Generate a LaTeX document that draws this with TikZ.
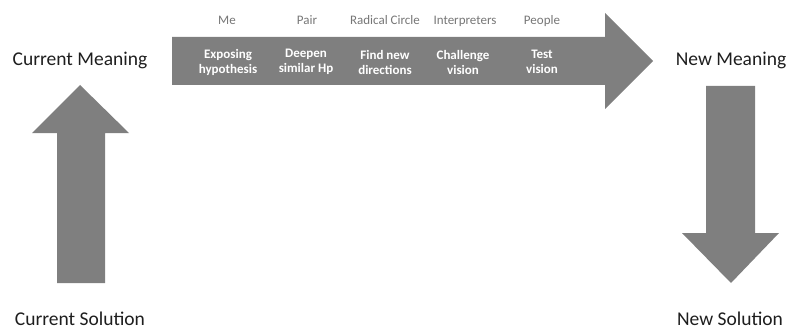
\documentclass[tikz,border=0pt]{standalone}
\usepackage{fontspec}
\setmainfont{Carlito}
\definecolor{gris}{RGB}{127,127,127}
\definecolor{grisclair}{RGB}{118,118,118}
\definecolor{encre}{RGB}{30,30,30}
\begin{document}
\begin{tikzpicture}[x=1pt, y=-1pt,
    fleche/.style={fill=gris},
    acteur/.style={text=grisclair, anchor=base, inner sep=0pt, font=\fontsize{13}{15}\selectfont},
    action/.style={text=white, align=center, inner sep=0pt, font=\fontsize{13}{15}\selectfont\bfseries},
    etat/.style={text=encre, anchor=base, inner sep=0pt, font=\fontsize{19.5}{23}\selectfont}]
    \useasboundingbox (0,0) rectangle (788,329);
    % fleche horizontale
    \fill[fleche] (172,37) -- (605,37) -- (605,13) -- (653,61)
        -- (605,109) -- (605,85) -- (172,85) -- cycle;
    % fleche montante
    \fill[fleche] (57,283) -- (57,133) -- (32,133) -- (80,85)
        -- (129,133) -- (105,133) -- (105,283) -- cycle;
    % fleche descendante
    \fill[fleche] (706,86) -- (755,86) -- (755,233) -- (779,233)
        -- (731,283) -- (682,233) -- (706,233) -- cycle;
    % qui
    \node[acteur] (me) at (227,25) {Me};
    \node[acteur] (pair) at (307,25) {Pair};
    \node[acteur] (circle) at (385,25) {Radical Circle};
    \node[acteur] (interp) at (465,25) {Interpreters};
    \node[acteur] (people) at (542,25) {People};
    % quoi
    \node[action] (expose) at (228,62) {Exposing\\hypothesis};
    \node[action] (deepen) at (306,62) {Deepen\\similar Hp};
    \node[action] (find) at (385,62) {Find new\\directions};
    \node[action] (challenge) at (463,62) {Challenge\\vision};
    \node[action] (test) at (542,62) {Test\\vision};
    % etats
    \node[etat] (curmean) at (80,66) {Current Meaning};
    \node[etat] (cursol) at (80,325) {Current Solution};
    \node[etat] (newmean) at (731,66) {New Meaning};
    \node[etat] (newsol) at (730,325) {New Solution};
\end{tikzpicture}
\end{document}
